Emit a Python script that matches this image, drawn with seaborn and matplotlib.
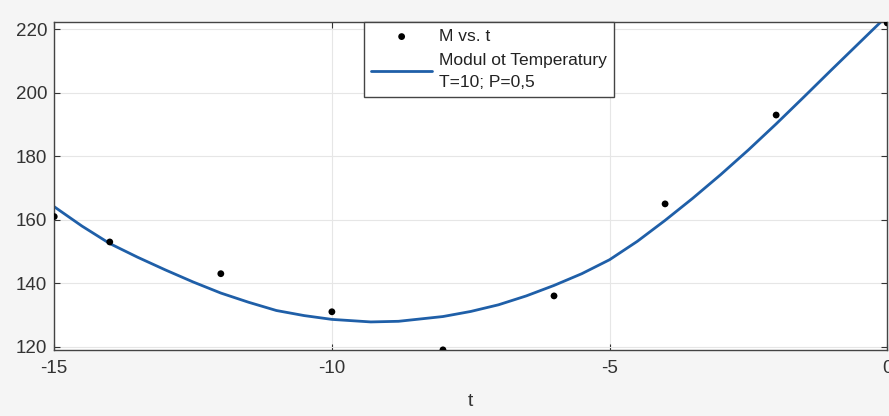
import matplotlib
matplotlib.use("Agg")
import matplotlib.pyplot as plt
import seaborn as sns
import pandas as pd

# Measured data
t_data = [-15, -14, -12, -10, -8, -6, -4, -2, 0]
m_data = [161, 153, 143, 131, 119, 136, 165, 193, 222]

# Model curve values
t_curve = [-15, -14.5, -14, -13.5, -13, -12.5, -12, -11.5, -11, -10.5, -10, -9.3,
           -8.8, -8, -7.5, -7, -6.5, -6, -5.5, -5, -4.5, -4, -3.5, -3, -2.5, -2,
           -1.5, -1, -0.5, 0]
m_curve = [164.1, 158.0, 152.5, 148.2, 144.2, 140.4, 136.9, 134.0, 131.4, 129.8,
           128.6, 127.8, 128.0, 129.5, 131.1, 133.2, 136.0, 139.3, 143.0, 147.4,
           153.2, 159.8, 166.8, 174.2, 182.0, 190.2, 198.7, 207.3, 215.8, 224.3]

x_ticks = [-15, -10, -5, 0]
y_ticks = [120, 140, 160, 180, 200, 220]

sns.set_theme(style="whitegrid")
plt.rcParams['font.family'] = ['Liberation Sans', 'DejaVu Sans']

fig = plt.figure(figsize=(8.89, 4.16), dpi=100, facecolor="#f5f5f5")
ax = fig.add_axes([0.061, 0.159, 0.937, 0.788])
ax.set_facecolor("white")

df_pts = pd.DataFrame({"t": t_data, "M": m_data})
df_cur = pd.DataFrame({"t": t_curve, "M": m_curve})

sns.scatterplot(data=df_pts, x="t", y="M", ax=ax, color="black", s=24,
                edgecolor="none", label="M vs. t", zorder=3)
sns.lineplot(data=df_cur, x="t", y="M", ax=ax, color="#1f5fa8", linewidth=2.0,
             label="Modul ot Temperatury\nT=10; P=0,5", zorder=2, sort=True)

ax.set_xlim(-15, 0)
ax.set_ylim(119, 222.3)
ax.set_xticks(x_ticks)
ax.set_xticklabels([str(v) for v in x_ticks])
ax.set_yticks(y_ticks)
ax.set_xlabel("t", fontsize=14, color="#333333", labelpad=12)
ax.set_ylabel("")
ax.tick_params(axis="both", labelsize=13.5, colors="#333333", direction="in",
               length=4, width=0.8)
ax.tick_params(axis="x", pad=7)
ax.tick_params(axis="y", pad=5)
ax.tick_params(axis="both", which="both", top=True, right=True, bottom=True, left=True)
ax.grid(True, color="#e6e6e6", linewidth=0.8)
for s in ax.spines.values():
    s.set_color("#444444")
    s.set_linewidth(1.0)
    s.set_visible(True)

leg = ax.legend(loc="upper center", bbox_to_anchor=(0.522, 1.0), fontsize=12.5,
                frameon=True, fancybox=False, borderpad=0.4, labelspacing=0.5,
                handlelength=3.5, handletextpad=0.4, borderaxespad=0.0)
leg.get_frame().set_edgecolor("#444444")
leg.get_frame().set_linewidth(1.0)
leg.get_frame().set_alpha(1.0)
for txt in leg.get_texts():
    txt.set_color("#222222")
    txt.set_linespacing(1.6)

fig.savefig("out.png", dpi=100, facecolor=fig.get_facecolor())
